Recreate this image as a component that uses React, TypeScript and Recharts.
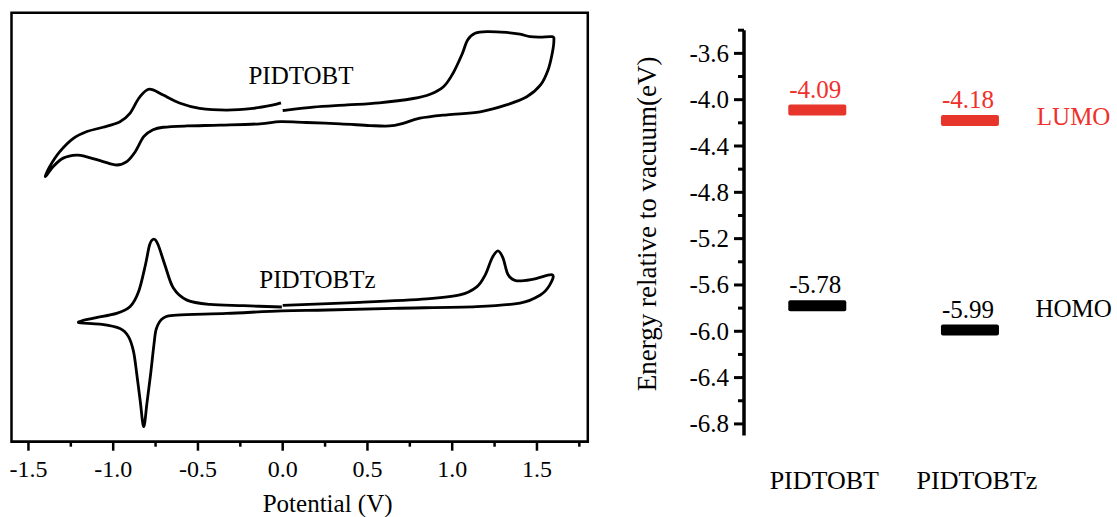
import React from 'react';
import {
  LineChart,
  Line,
  XAxis,
  YAxis,
  ReferenceArea,
  ReferenceDot,
  ComposedChart,
  Scatter,
} from 'recharts';

const FONT = '"Liberation Serif", "Times New Roman", serif';

// ---------- Left panel: cyclic voltammograms (Potential V, current a.u.) ----------
const potentialMajorTicks = [-1.5, -1.0, -0.5, 0.0, 0.5, 1.0, 1.5];
const potentialMinorTicks = [-1.25, -0.75, -0.25, 0.25, 0.75, 1.25, 1.75];

const pidtobtCurve: [number, number][] = [
  [0.0, 77.2], [0.18, 78.0], [0.38, 78.5], [0.57, 79.0], [0.77, 80.0], [0.87, 81.0],
  [0.95, 82.8], [1.005, 85.9], [1.06, 90.5], [1.09, 93.6], [1.135, 95.2], [1.205, 95.6],
  [1.32, 95.4], [1.4, 95.0], [1.46, 94.4], [1.52, 94.3], [1.59, 94.4], [1.6, 93.6],
  [1.59, 90.5], [1.565, 86.6], [1.52, 83.1], [1.44, 80.4], [1.32, 78.5], [1.165, 76.9],
  [0.97, 76.2], [0.81, 75.4], [0.71, 74.2], [0.63, 73.6], [0.515, 73.7], [0.34, 74.1],
  [0.14, 74.4], [-0.015, 74.6], [-0.135, 74.1], [-0.37, 73.8], [-0.565, 73.6], [-0.705, 73.3],
  [-0.765, 72.7], [-0.82, 71.1], [-0.87, 67.6], [-0.92, 65.3], [-0.98, 64.5], [-1.06, 65.3],
  [-1.155, 66.4], [-1.215, 66.8], [-1.295, 66.1], [-1.355, 64.1], [-1.4, 61.8], [-1.375, 64.1],
  [-1.315, 67.6], [-1.235, 70.7], [-1.155, 72.3], [-1.06, 73.3], [-0.96, 74.6], [-0.9, 76.6],
  [-0.85, 80.0], [-0.8, 82.0], [-0.765, 82.0], [-0.705, 80.8], [-0.605, 78.9], [-0.49, 77.7],
  [-0.33, 77.3], [-0.175, 77.7], [-0.055, 78.5], [-0.01, 79.0],
];

const pidtobtzCurve: [number, number][] = [
  [0.0, 31.8], [0.455, 32.5], [0.85, 33.3], [1.045, 34.2], [1.145, 36.1], [1.195, 38.9],
  [1.235, 42.8], [1.27, 44.5], [1.3, 42.8], [1.33, 38.9], [1.38, 37.5], [1.48, 37.9],
  [1.59, 38.9], [1.575, 36.5], [1.52, 34.2], [1.4, 32.3], [1.145, 31.5], [0.655, 31.1],
  [0.26, 30.7], [-0.005, 30.5], [-0.33, 29.9], [-0.625, 29.5], [-0.705, 28.8], [-0.745, 26.4],
  [-0.76, 22.5], [-0.78, 15.5], [-0.8, 9.3], [-0.82, 3.5], [-0.84, 9.3], [-0.86, 15.5],
  [-0.88, 21.0], [-0.91, 24.5], [-0.96, 26.4], [-1.08, 27.4], [-1.205, 27.8], [-1.115, 28.8],
  [-0.98, 29.9], [-0.9, 31.5], [-0.85, 35.0], [-0.81, 41.2], [-0.785, 45.9], [-0.76, 47.2],
  [-0.735, 45.9], [-0.695, 41.2], [-0.645, 35.8], [-0.565, 33.0], [-0.43, 32.0], [-0.23, 31.7],
  [-0.005, 31.4],
];

// ---------- Right panel: energy levels ----------
const materials = ['PIDTOBT', 'PIDTOBTz'];
const lumoLevels = [-4.09, -4.18];
const homoLevels = [-5.78, -5.99];
const energyMajorTicks = [-3.6, -4.0, -4.4, -4.8, -5.2, -5.6, -6.0, -6.4, -6.8];
const energyMinorTicks = [-3.4, -3.8, -4.2, -4.6, -5.0, -5.4, -5.8, -6.2, -6.6];

const RED = '#E8352B';
const RED_TEXT = '#F0302C';

const toPoints = (c: [number, number][]) => c.map(([v, i]) => ({ v, i }));

// Catmull-Rom curve factory (parametric, works for closed CV loops)
const catmullRom = (context: any) => {
  let pts: [number, number][] = [];
  return {
    areaStart() {},
    areaEnd() {},
    lineStart() {
      pts = [];
    },
    point(x: number, y: number) {
      pts.push([+x, +y]);
    },
    lineEnd() {
      if (!pts.length) return;
      context.moveTo(pts[0][0], pts[0][1]);
      for (let k = 0; k < pts.length - 1; k++) {
        const p0 = pts[Math.max(k - 1, 0)];
        const p1 = pts[k];
        const p2 = pts[k + 1];
        const p3 = pts[Math.min(k + 2, pts.length - 1)];
        context.bezierCurveTo(
          p1[0] + (p2[0] - p0[0]) / 6,
          p1[1] + (p2[1] - p0[1]) / 6,
          p2[0] - (p3[0] - p1[0]) / 6,
          p2[1] - (p3[1] - p1[1]) / 6,
          p2[0],
          p2[1]
        );
      }
    },
  };
};

const isIn = (arr: number[], v: number) => arr.some((t) => Math.abs(t - v) < 1e-6);

const PotentialTick = (props: any) => {
  const { x, y, payload } = props;
  const major = isIn(potentialMajorTicks, payload.value);
  return (
    <g>
      <line x1={x} x2={x} y1={y} y2={y + (major ? 9 : 5)} stroke="#000" strokeWidth={2.5} />
      {major && (
        <text x={x} y={y + 35} textAnchor="middle" fontSize={24} fill="#000" fontFamily={FONT}>
          {payload.value.toFixed(1)}
        </text>
      )}
    </g>
  );
};

const EnergyTick = (props: any) => {
  const { x, y, payload } = props;
  const major = isIn(energyMajorTicks, payload.value);
  return (
    <g>
      <line x1={x} x2={x - (major ? 10 : 6)} y1={y} y2={y} stroke="#000" strokeWidth={3} />
      {major && (
        <text x={x - 15} y={y + 8.5} textAnchor="end" fontSize={25} fill="#000" fontFamily={FONT}>
          {payload.value.toFixed(1)}
        </text>
      )}
    </g>
  );
};

const MaterialTick = (props: any) => {
  const { x, y, payload } = props;
  return (
    <text x={x + 7} y={y + 53.5} textAnchor="middle" fontSize={26} fill="#000" fontFamily={FONT}>
      {materials[Math.round(payload.value) - 1]}
    </text>
  );
};

const levelShape = (color: string, textColor: string) => (props: any) => {
  const { cx, cy, payload } = props;
  if (cx == null || cy == null) return <g />;
  return (
    <g>
      <rect x={cx - 29} y={cy - 5.5} width={58} height={11} rx={2} fill={color} />
      <text x={cx - 2} y={cy - 12.5} textAnchor="middle" fontSize={25} fill={textColor} fontFamily={FONT}>
        {payload.y.toFixed(2)}
      </text>
    </g>
  );
};

const energyLabel = (p: any) => {
  const vb = p.viewBox || { x: 0, y: 30, width: 124, height: 405 };
  const cx = vb.x + 36;
  const cy = vb.y + vb.height / 2 - 9;
  return (
    <text
      x={cx}
      y={cy}
      transform={`rotate(-90, ${cx}, ${cy})`}
      textAnchor="middle"
      fontSize={27}
      fill="#000"
      fontFamily={FONT}
    >
      Energy relative to vacuum(eV)
    </text>
  );
};

const potentialLabel = (p: any) => {
  const vb = p.viewBox || { x: 11.5, y: 441.7, width: 576, height: 40 };
  return (
    <text x={vb.x + vb.width / 2 + 28} y={vb.y + 70.5} textAnchor="middle" fontSize={25} fill="#000" fontFamily={FONT}>
      Potential (V)
    </text>
  );
};

export default function App() {
  const lumoData = materials.map((m, k) => ({ x: k + 1, y: lumoLevels[k], name: m }));
  const homoData = materials.map((m, k) => ({ x: k + 1, y: homoLevels[k], name: m }));

  return (
    <div
      style={{
        position: 'absolute',
        left: 0,
        top: 0,
        width: 1117,
        height: 517,
        background: '#fff',
        fontFamily: FONT,
        overflow: 'hidden',
      }}
    >
      <div style={{ position: 'absolute', left: 0, top: 0 }}>
        <LineChart width={620} height={517} margin={{ top: 12.7, right: 32.2, left: 11.5, bottom: 35.3 }}>
          <XAxis
            type="number"
            dataKey="v"
            domain={[-1.6, 1.8]}
            allowDataOverflow
            ticks={[...potentialMajorTicks, ...potentialMinorTicks].sort((a, b) => a - b)}
            interval={0}
            tickSize={0}
            tickMargin={0}
            tick={PotentialTick}
            axisLine={{ stroke: '#000', strokeWidth: 2.5 }}
            height={40}
            label={potentialLabel}
          />
          <YAxis type="number" dataKey="i" domain={[0, 100]} hide allowDataOverflow />
          <ReferenceArea
            x1={-1.6}
            x2={1.8}
            y1={0}
            y2={100}
            fill="none"
            stroke="#000"
            strokeWidth={2.5}
            ifOverflow="visible"
          />
          <Line
            data={toPoints(pidtobtCurve)}
            dataKey="i"
            type={catmullRom as any}
            stroke="#000"
            strokeWidth={2.8}
            dot={false}
            activeDot={false}
            isAnimationActive={false}
          />
          <Line
            data={toPoints(pidtobtzCurve)}
            dataKey="i"
            type={catmullRom as any}
            stroke="#000"
            strokeWidth={2.8}
            dot={false}
            activeDot={false}
            isAnimationActive={false}
          />
          <ReferenceDot
            x={0.108}
            y={85.45}
            r={0}
            fill="none"
            stroke="none"
            label={{ value: 'PIDTOBT', position: 'center', fontSize: 25, fill: '#000' }}
          />
          <ReferenceDot
            x={0.205}
            y={37.97}
            r={0}
            fill="none"
            stroke="none"
            label={{ value: 'PIDTOBTz', position: 'center', fontSize: 25, fill: '#000' }}
          />
        </LineChart>
      </div>

      <div style={{ position: 'absolute', left: 620, top: 0 }}>
        <ComposedChart width={497} height={517} margin={{ top: 30.2, right: 2, left: 0, bottom: 21.5 }}>
          <XAxis
            type="number"
            dataKey="x"
            domain={[0.52, 2.95]}
            allowDataOverflow
            ticks={[1, 2]}
            interval={0}
            axisLine={false}
            tickSize={0}
            tickMargin={0}
            tick={MaterialTick}
            height={60}
          />
          <YAxis
            type="number"
            dataKey="y"
            domain={[-6.9, -3.4]}
            allowDataOverflow
            ticks={[...energyMajorTicks, ...energyMinorTicks]}
            interval={0}
            tickSize={0}
            tickMargin={0}
            tick={EnergyTick}
            axisLine={{ stroke: '#000', strokeWidth: 3.5 }}
            width={124}
            label={energyLabel}
          />
          <Scatter
            data={lumoData}
            dataKey="y"
            shape={levelShape(RED, RED_TEXT)}
            isAnimationActive={false}
          />
          <Scatter
            data={homoData}
            dataKey="y"
            shape={levelShape('#000', '#000')}
            isAnimationActive={false}
          />
          <ReferenceDot
            x={2.679}
            y={-4.138}
            r={0}
            fill="none"
            stroke="none"
            label={{ value: 'LUMO', position: 'center', fontSize: 25, fill: RED_TEXT }}
          />
          <ReferenceDot
            x={2.679}
            y={-5.802}
            r={0}
            fill="none"
            stroke="none"
            label={{ value: 'HOMO', position: 'center', fontSize: 25, fill: '#000' }}
          />
        </ComposedChart>
      </div>
    </div>
  );
}
